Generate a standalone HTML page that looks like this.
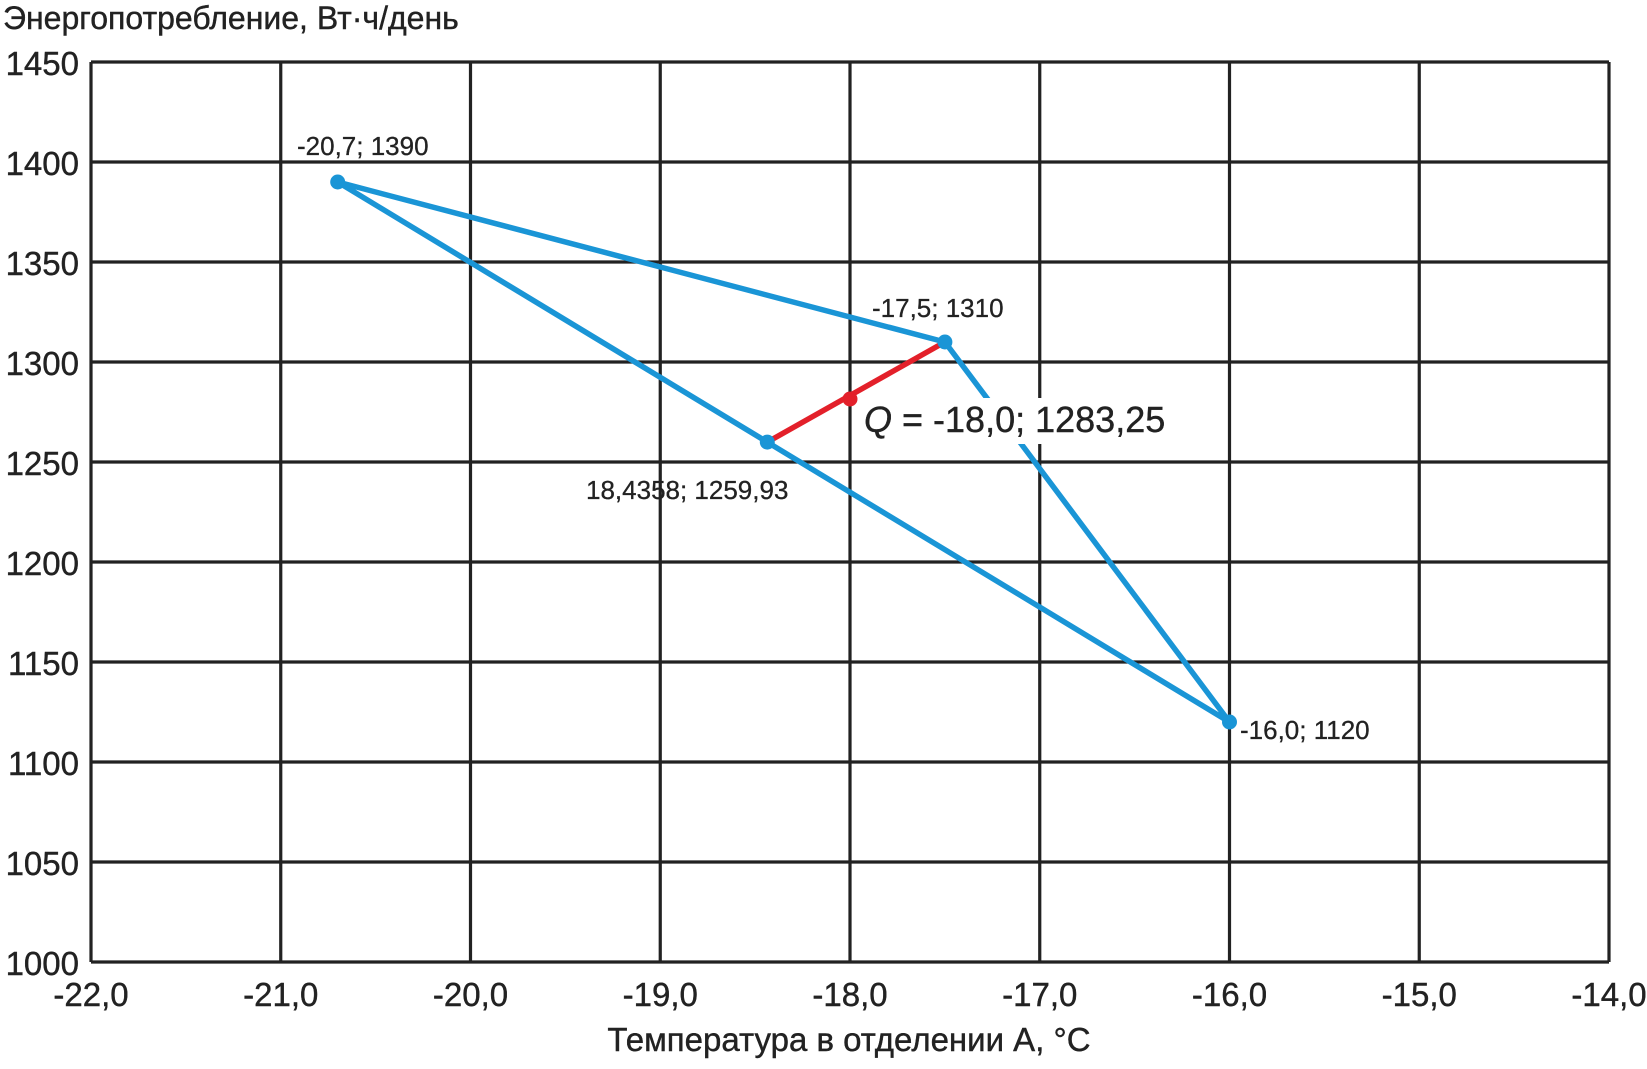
<!DOCTYPE html>
<html><head><meta charset="utf-8"><style>body{margin:0;background:#fff}</style></head><body>
<svg width="1647" height="1064" xmlns="http://www.w3.org/2000/svg" font-family="Liberation Sans, sans-serif" fill="#222">
<g stroke="#222" stroke-width="3.2">
<line x1="91" y1="62" x2="1609" y2="62"/><line x1="91" y1="162" x2="1609" y2="162"/><line x1="91" y1="262" x2="1609" y2="262"/><line x1="91" y1="362" x2="1609" y2="362"/><line x1="91" y1="462" x2="1609" y2="462"/><line x1="91" y1="562" x2="1609" y2="562"/><line x1="91" y1="662" x2="1609" y2="662"/><line x1="91" y1="762" x2="1609" y2="762"/><line x1="91" y1="862" x2="1609" y2="862"/><line x1="91" y1="962" x2="1609" y2="962"/>
<line x1="91" y1="62" x2="91" y2="962"/><line x1="280.75" y1="62" x2="280.75" y2="962"/><line x1="470.5" y1="62" x2="470.5" y2="962"/><line x1="660.25" y1="62" x2="660.25" y2="962"/><line x1="850" y1="62" x2="850" y2="962"/><line x1="1039.75" y1="62" x2="1039.75" y2="962"/><line x1="1229.5" y1="62" x2="1229.5" y2="962"/><line x1="1419.25" y1="62" x2="1419.25" y2="962"/><line x1="1609" y1="62" x2="1609" y2="962"/>
</g>
<g font-size="33" text-anchor="end" stroke="#222" stroke-width="0.4">
<text x="79" y="75">1450</text><text x="79" y="175">1400</text><text x="79" y="275">1350</text><text x="79" y="375">1300</text><text x="79" y="475">1250</text><text x="79" y="575">1200</text><text x="79" y="675">1150</text><text x="79" y="775">1100</text><text x="79" y="875">1050</text><text x="79" y="975">1000</text>
</g>
<g font-size="33" text-anchor="middle" stroke="#222" stroke-width="0.4">
<text x="91" y="1006">-22,0</text><text x="280.75" y="1006">-21,0</text><text x="470.5" y="1006">-20,0</text><text x="660.25" y="1006">-19,0</text><text x="850" y="1006">-18,0</text><text x="1039.75" y="1006">-17,0</text><text x="1229.5" y="1006">-16,0</text><text x="1419.25" y="1006">-15,0</text><text x="1609" y="1006">-14,0</text>
<text x="849" y="1051">Температура в отделении А, °С</text>
</g>
<text x="3" y="29" font-size="32" stroke="#222" stroke-width="0.4">Энергопотребление, Вт·ч/день</text>
<polygon points="337.7,182 944.9,342 1229.5,722" fill="none" stroke="#1a95d6" stroke-width="5.5" stroke-linejoin="round"/>
<line x1="767.3" y1="442.1" x2="944.9" y2="342" stroke="#e3202a" stroke-width="5.5"/>
<g fill="#1a95d6"><circle cx="337.7" cy="182" r="7.5"/><circle cx="944.9" cy="342" r="7.5"/><circle cx="1229.5" cy="722" r="7.5"/><circle cx="767.3" cy="442.1" r="7.5"/></g>
<circle cx="850" cy="399" r="7.5" fill="#e3202a"/>
<rect x="860" y="398" width="300" height="46" fill="#fff"/>
<text x="864" y="432" font-size="36" stroke="#222" stroke-width="0.4"><tspan font-style="italic">Q</tspan> = -18,0; 1283,25</text>
<g font-size="26" stroke="#222" stroke-width="0.3">
<text x="297" y="155">-20,7; 1390</text><text x="872" y="317">-17,5; 1310</text><text x="586" y="499">18,4358; 1259,93</text><text x="1240" y="739">-16,0; 1120</text>
</g>
</svg>
</body></html>
